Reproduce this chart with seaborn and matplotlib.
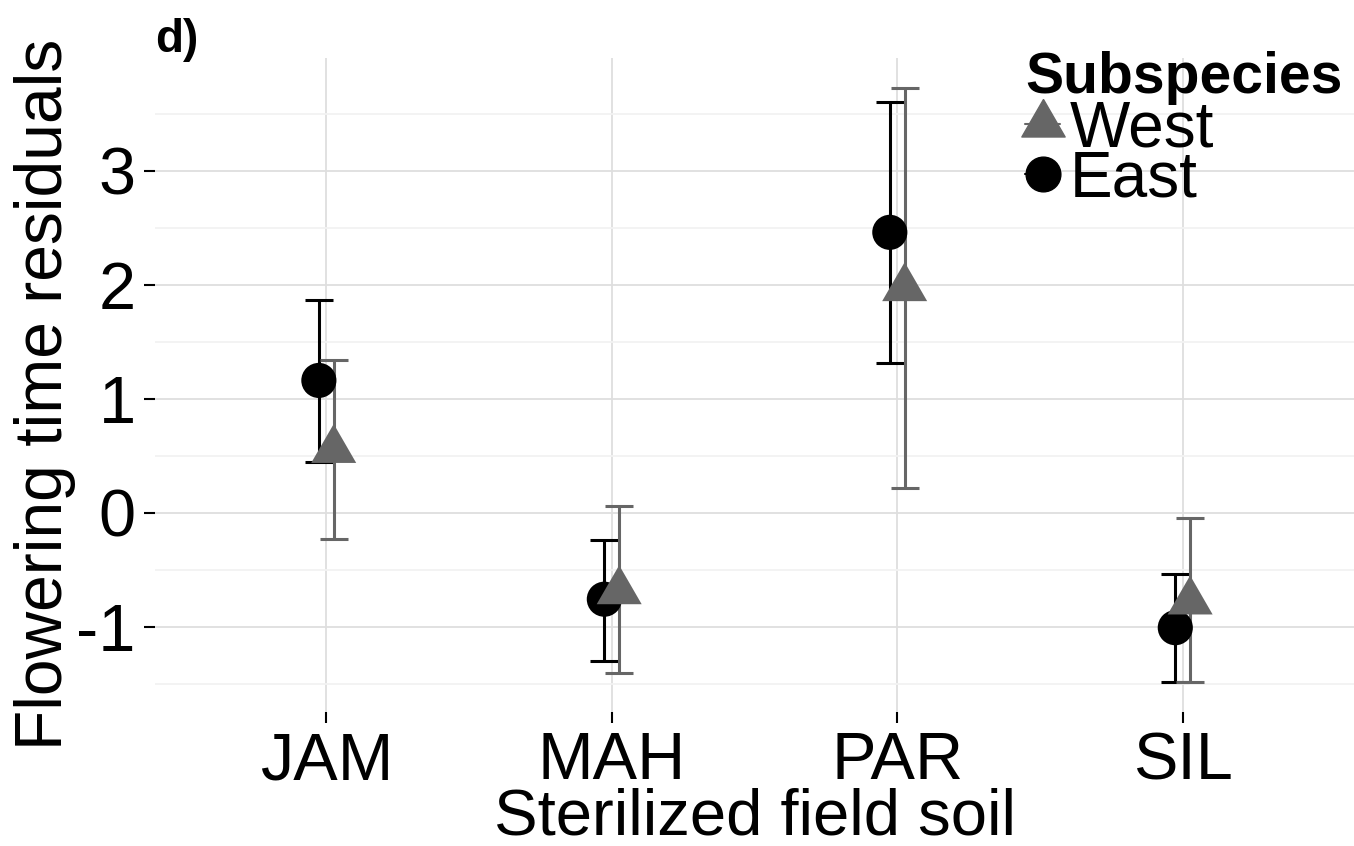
import numpy as np
import pandas as pd
import matplotlib
matplotlib.use("Agg")
import matplotlib.pyplot as plt
from matplotlib.lines import Line2D
import seaborn as sns

# values read off the reference panel d)
soils = ["JAM", "MAH", "PAR", "SIL"]
subspecies = ["West", "East"]
east_mean = [1.16, -0.76, 2.46, -1.01]
east_lo = [0.44, -1.30, 1.31, -1.49]
east_hi = [1.87, -0.24, 3.60, -0.54]
west_mean = [0.55, -0.69, 1.97, -0.78]
west_lo = [-0.23, -1.41, 0.22, -1.49]
west_hi = [1.34, 0.06, 3.73, -0.05]

colors = {"West": "#666666", "East": "#000000"}
offsets = {"West": 0.026, "East": -0.026}

rows = []
for sub, m, lo, hi in [("East", east_mean, east_lo, east_hi),
                       ("West", west_mean, west_lo, west_hi)]:
    for i, s in enumerate(soils):
        rows.append({"soil": s, "subspecies": sub, "mean": m[i],
                     "lo": lo[i], "hi": hi[i], "x": i + offsets[sub]})
df = pd.DataFrame(rows)

sns.set_theme(style="white")
plt.rcParams["font.family"] = ["Liberation Sans", "DejaVu Sans"]
plt.rcParams["text.color"] = "black"
plt.rcParams["axes.labelcolor"] = "black"

fig = plt.figure(figsize=(13.54, 8.46), dpi=100)
ax = fig.add_axes([155 / 1354, (846 - 712) / 846, 1199 / 1354, 654 / 846])

# triangle with its centroid on the data point, like R's pch 17
tri = [(0, 1), (-0.866, -0.5), (0.866, -0.5), (0, 1)]

# error bars first (East under West), points on top
for sub in ["East", "West"]:
    d = df[df.subspecies == sub]
    ax.errorbar(d["x"], d["mean"], yerr=[d["mean"] - d["lo"], d["hi"] - d["mean"]],
                fmt="none", ecolor=colors[sub], elinewidth=2.2, capsize=10,
                capthick=2.2, zorder=3)

for sub, mk, sz in [("East", "o", 640), ("West", tri, 1400)]:
    d = df[df.subspecies == sub]
    sns.scatterplot(data=d, x="x", y="mean", color=colors[sub], marker=mk,
                    s=sz, linewidth=0, edgecolor="none", ax=ax, zorder=4,
                    legend=False)

ax.set_xlim(-0.6, 3.6)
ax.set_ylim(-1.75, 3.99)
ax.set_xticks(range(len(soils)))
ax.set_xticklabels(soils)
ax.set_yticks([-1, 0, 1, 2, 3])
ax.set_yticklabels(["-1", "0", "1", "2", "3"])
ax.set_yticks(np.arange(-1.5, 4.0, 1.0), minor=True)

ax.grid(True, which="major", color="#dedede", linewidth=1.3)
ax.grid(True, which="minor", axis="y", color="#f2f2f2", linewidth=1.3)
ax.set_axisbelow(True)
for sp in ax.spines.values():
    sp.set_visible(False)

ax.tick_params(axis="both", which="major", labelsize=48, colors="black",
               length=8, width=1.5, pad=6)
ax.tick_params(axis="both", which="minor", length=0)
ax.tick_params(axis="x", bottom=True, direction="out")
ax.tick_params(axis="y", left=True, direction="out")

ax.set_xlabel("Sterilized field soil", fontsize=47)
ax.set_ylabel("Flowering time residuals", fontsize=47.5)
ax.yaxis.set_label_coords(-0.066, 0.485)
ax.xaxis.set_label_coords(0.5, -0.116)

fig.text(155 / 1354, 1 - 52 / 846, "d)", fontsize=33, fontweight="bold",
         ha="left", va="baseline")

handles = [
    Line2D([0], [0], color=colors["West"], marker=tri, markersize=36, lw=1.5),
    Line2D([0], [0], color=colors["East"], marker="o", markersize=25, lw=1.5),
]
leg = ax.legend(handles, subspecies, title="Subspecies", loc="upper left",
                bbox_to_anchor=(1025 / 1354, 1 - 51 / 846),
                bbox_transform=fig.transFigure, frameon=False, fontsize=46,
                title_fontproperties={"weight": "bold", "size": 41},
                handlelength=0.55, handletextpad=0.15, labelspacing=-0.16,
                borderpad=0, borderaxespad=0)
leg._legend_box.align = "left"
leg._legend_box.sep = -4

fig.savefig("out.png", dpi=100)
